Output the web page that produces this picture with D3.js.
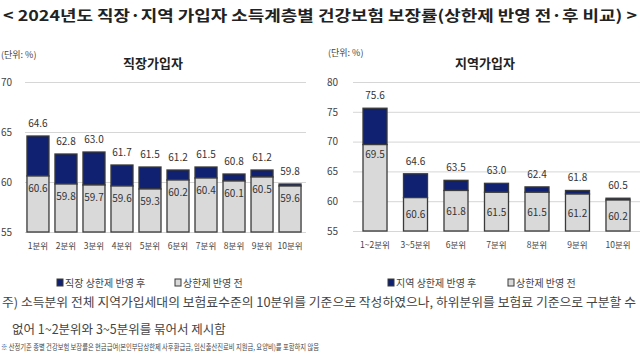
<!DOCTYPE html>
<html><head><meta charset="utf-8">
<script src="https://cdn.jsdelivr.net/npm/d3@7"></script>
<style>
body{margin:0;background:#fff;}
svg{display:block;font-family:"Noto Sans CJK KR","Noto Sans",sans-serif;}
</style></head>
<body><svg id="c" width="640" height="360"></svg>
<script>
const leftCats = ["1분위","2분위","3분위","4분위","5분위","6분위","7분위","8분위","9분위","10분위"];
const leftAfter = [64.6,62.8,63.0,61.7,61.5,61.2,61.5,60.8,61.2,59.8];
const leftBefore = [60.6,59.8,59.7,59.6,59.3,60.2,60.4,60.1,60.5,59.6];
const leftTicks = [55,60,65,70];
const rightCats = ["1~2분위","3~5분위","6분위","7분위","8분위","9분위","10분위"];
const rightAfter = [75.6,64.6,63.5,63.0,62.4,61.8,60.5];
const rightBefore = [69.5,60.6,61.8,61.5,61.5,61.2,60.2];
const rightTicks = [55,60,65,70,75,80];

const NAVY = "#0f2170", GREY = "#d9d9d9", EDGE = "#3a3a3a", TXT = "#444";
const svg = d3.select("#c");

svg.append("text").attr("x",320).attr("y",21).attr("text-anchor","middle")
  .attr("font-size",15).attr("font-weight",700).attr("fill","#222")
  .attr("textLength",634).attr("lengthAdjust","spacingAndGlyphs")
  .text("< 2024년도 직장·지역 가입자 소득계층별 건강보험 보장률(상한제 반영 전·후 비교) >");

function panel(o){
  const g = svg.append("g");
  const x = d3.scaleBand().domain(o.cats).range(o.xr).paddingInner(o.pi).paddingOuter(o.po);
  const y = d3.scaleLinear().domain([55, o.ticks[o.ticks.length-1]]).range(o.yr);
  const ax = d3.axisLeft(y).tickValues(o.ticks).tickSize(-(o.gridEnd - o.xr[0])).tickPadding(o.tickPad);
  const ag = g.append("g").attr("transform",`translate(${o.xr[0]},0)`).call(ax);
  ag.select(".domain").remove();
  ag.selectAll(".tick line").attr("stroke","#d6d6d6");
  ag.selectAll(".tick text").attr("font-size",10).attr("fill",TXT).attr("font-family","Noto Sans CJK KR");
  const bx = d3.axisBottom(x).tickSize(0).tickPadding(11);
  const bg = g.append("g").attr("transform",`translate(0,${o.yr[0]})`).call(bx);
  bg.select(".domain").remove();
  bg.selectAll(".tick text").attr("font-size",8.5).attr("fill",TXT).attr("font-family","Noto Sans CJK KR");
  const bars = g.selectAll("g.bar").data(o.cats).join("g").attr("class","bar");
  bars.append("rect").attr("x",d=>x(d)).attr("width",x.bandwidth())
    .attr("y",(d,i)=>y(o.after[i])).attr("height",(d,i)=>y(o.before[i])-y(o.after[i]))
    .attr("fill",NAVY).attr("stroke",EDGE).attr("stroke-width",1.3);
  bars.append("rect").attr("x",d=>x(d)).attr("width",x.bandwidth())
    .attr("y",(d,i)=>y(o.before[i])).attr("height",(d,i)=>y(55)-y(o.before[i]))
    .attr("fill",GREY).attr("stroke",EDGE).attr("stroke-width",1.3);
  bars.append("text").attr("x",d=>x(d)+x.bandwidth()/2).attr("y",(d,i)=>y(o.after[i])-9)
    .attr("text-anchor","middle").attr("font-size",10).attr("fill","#333")
    .text((d,i)=>o.after[i].toFixed(1));
  bars.append("text").attr("x",d=>x(d)+x.bandwidth()/2)
    .attr("y",(d,i)=>o.inLabel(y(o.before[i]), y(55), i)+4)
    .attr("text-anchor","middle").attr("font-size",10).attr("fill","#333")
    .text((d,i)=>o.before[i].toFixed(1));
  svg.append("text").attr("x",o.titleX).attr("y",68).attr("text-anchor","middle")
    .attr("font-size",13).attr("font-weight",700).attr("fill","#222").text(o.title);
  svg.append("text").attr("x",o.unitX).attr("y",o.unitY).attr("font-size",9).attr("fill",TXT).text("(단위: %)");
  const lg = svg.append("g").attr("transform",`translate(${o.legX},283)`);
  lg.append("rect").attr("x",0).attr("y",-4).attr("width",6).attr("height",7).attr("fill",NAVY).attr("stroke",EDGE);
  lg.append("text").attr("x",8).attr("y",3.5).attr("font-size",10).attr("fill",TXT).text(o.legA);
  lg.append("rect").attr("x",o.legGap).attr("y",-4).attr("width",6).attr("height",7).attr("fill",GREY).attr("stroke",EDGE);
  lg.append("text").attr("x",o.legGap+8).attr("y",3.5).attr("font-size",10).attr("fill",TXT).text("상한제 반영 전");
}

panel({cats:leftCats, after:leftAfter, before:leftBefore, ticks:leftTicks,
  xr:[25,303], pi:0.214, po:0.07, yr:[232,82], gridEnd:306, tickPad:13,
  inLabel:(top,bot,i)=>top+12,
  title:"직장가입자", titleX:153, unitX:1, unitY:58,
  legX:57, legA:"직장 상한제 반영 후", legGap:118});

panel({cats:rightCats, after:rightAfter, before:rightBefore, ticks:rightTicks,
  xr:[353,640], pi:0.407, po:0.247, yr:[231,82], gridEnd:640, tickPad:15,
  inLabel:(top,bot,i)=> i===0 ? top+9 : (top+bot)/2,
  title:"지역가입자", titleX:485, unitX:328, unitY:56,
  legX:388, legA:"지역 상한제 반영 후", legGap:120});

const notes = svg.append("g").attr("fill","#444");
notes.append("text").attr("x",2).attr("y",307).attr("font-size",12.5)
  .attr("textLength",634).attr("lengthAdjust","spacingAndGlyphs")
  .text("주) 소득분위 전체 지역가입세대의 보험료수준의 10분위를 기준으로 작성하였으나, 하위분위를 보험료 기준으로 구분할 수");
notes.append("text").attr("x",12).attr("y",334).attr("font-size",12.5)
  .text("없어 1~2분위와 3~5분위를 묶어서 제시함");
notes.append("text").attr("x",1).attr("y",350).attr("font-size",7.5)
  .attr("textLength",318).attr("lengthAdjust","spacingAndGlyphs")
  .text("※ 산정기준 종별 건강보험 보장률은 현금급여(본인부담상한제 사후환급금, 임신출산진료비 지원금, 요양비)를 포함하지 않음");
</script></body></html>
